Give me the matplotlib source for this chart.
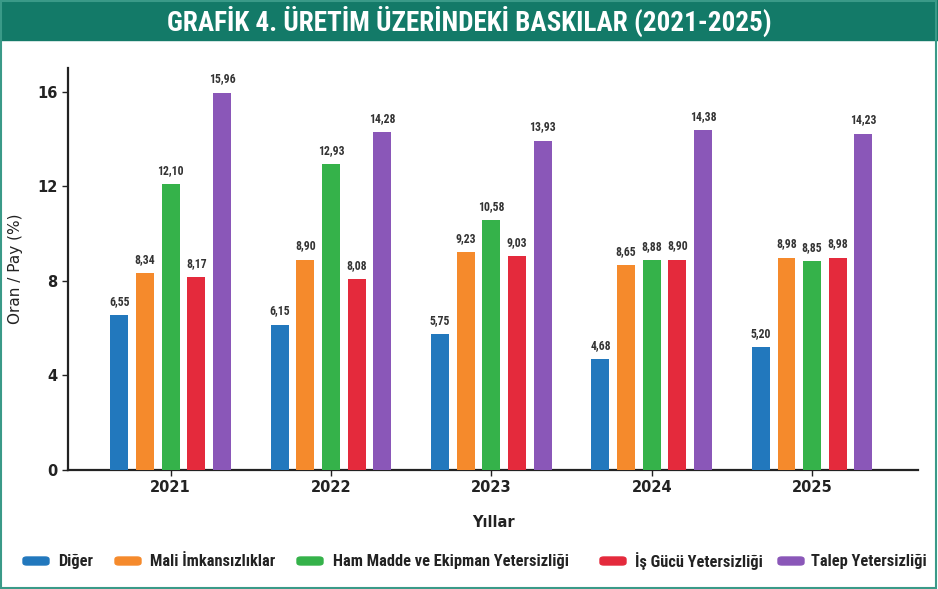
import matplotlib
matplotlib.use("Agg")
import matplotlib.pyplot as plt
import numpy as np
from matplotlib.patches import Rectangle, FancyBboxPatch
import logging
logging.getLogger('matplotlib.font_manager').setLevel(logging.ERROR)

years = ["2021", "2022", "2023", "2024", "2025"]
series_names = ["Diğer", "Mali İmkansızlıklar", "Ham Madde ve Ekipman Yetersizliği",
                "İş Gücü Yetersizliği", "Talep Yetersizliği"]
diger = [6.55, 6.15, 5.75, 4.68, 5.20]
mali = [8.34, 8.90, 9.23, 8.65, 8.98]
hammadde = [12.10, 12.93, 10.58, 8.88, 8.85]
isgucu = [8.17, 8.08, 9.03, 8.90, 8.98]
talep = [15.96, 14.28, 13.93, 14.38, 14.23]
colors = ["#2278bd", "#f58a2c", "#35b24a", "#e42a3c", "#8a57b8"]

narrow = ['Roboto Condensed', 'Asap Condensed', 'Archivo Narrow', 'Roboto', 'DejaVu Sans']
plt.rcParams['font.family'] = ['DejaVu Sans']
fig = plt.figure(figsize=(9.38, 5.89), dpi=100)
W, H = 938, 589

header_col = "#137a68"
fig.patches.append(Rectangle((0, 1 - 40/H), 1, 40/H, transform=fig.transFigure,
                             color=header_col, zorder=0))
fig.patches.append(Rectangle((0.001, 0.002), 0.997, 0.996, transform=fig.transFigure,
                             fill=False, edgecolor="#3a9a88", lw=1.5, zorder=0))
fig.text(0.5, 1 - 21/H, "GRAFİK 4. ÜRETİM ÜZERİNDEKİ BASKILAR (2021-2025)",
         ha="center", va="center", color="white", fontsize=19.5, fontweight="bold",
         family=narrow)

ax = fig.add_axes([68/W, 1 - 470/H, (918-68)/W, (470-68)/H])
x = np.arange(len(years))
step = 0.16
width = 0.112
all_series = [diger, mali, hammadde, isgucu, talep]
for i, (vals, c) in enumerate(zip(all_series, colors)):
    pos = x + (i - 2) * step
    ax.bar(pos, vals, width=width, color=c, zorder=3)
    for p, v in zip(pos, vals):
        ax.text(p, v + 0.3, f"{v:.2f}".replace(".", ","), ha="center", va="bottom",
                fontsize=8.5, fontweight="bold", color="#333333", family=narrow)

ax.set_xlim(-0.64, 4.66)
ax.set_ylim(0, 17.0)
ax.set_yticks([0, 4, 8, 12, 16])
ax.set_xticks(x)
ax.set_xticklabels(years)
ax.tick_params(axis="both", labelsize=10.5, colors="#222222", length=4, width=1)
for lab in ax.get_xticklabels() + ax.get_yticklabels():
    lab.set_fontweight("bold")
for s in ["top", "right"]:
    ax.spines[s].set_visible(False)
for s in ["left", "bottom"]:
    ax.spines[s].set_linewidth(1.6)
    ax.spines[s].set_color("#222222")
ax.set_ylabel("Oran / Pay (%)", fontsize=11, color="#222222", labelpad=10)
ax.set_xlabel("Yıllar", fontsize=10.5, color="#222222", labelpad=14, fontweight="bold")

# legend, laid out as in the reference
handle_x = [23, 115, 297, 600, 778]
text_x = [58, 150, 333, 635, 811]
ly = 561
for hx, tx, name, c in zip(handle_x, text_x, series_names, colors):
    fig.patches.append(FancyBboxPatch((hx/W, 1 - (ly + 4)/H), 26/W, 8/H,
                                      boxstyle="round,pad=0,rounding_size=0.004",
                                      transform=fig.transFigure, color=c))
    fig.text(tx/W, 1 - ly/H, name, ha="left", va="center", fontsize=11.8,
             fontweight="bold", color="#222222", family=narrow)

fig.savefig("out.png", dpi=100)
